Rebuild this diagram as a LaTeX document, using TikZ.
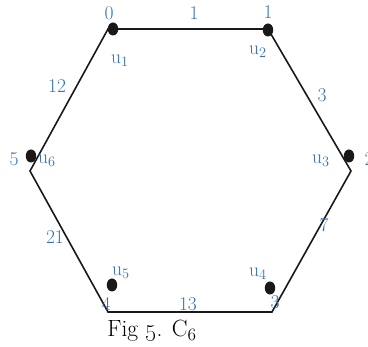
\documentclass[tikz,border=0pt]{standalone}
\usetikzlibrary{shapes.geometric}
\definecolor{lblue}{RGB}{52,113,190}
\definecolor{edgeblack}{RGB}{25,25,25}
\begin{document}
\begin{tikzpicture}[x=1pt,y=-1pt,
  dot/.style={ellipse,fill=edgeblack,draw=none,minimum width=10.5pt,minimum height=13pt,inner sep=0pt},
  edge/.style={draw=edgeblack,line width=1.6pt,line join=miter},
  lbl/.style={text=lblue,inner sep=0pt,font=\fontsize{19.5}{22}\selectfont},
  captext/.style={text=black,inner sep=0pt,font=\fontsize{23.5}{27}\selectfont}]
\useasboundingbox (0,0) rectangle (368,347);
% corners
\coordinate (c1) at (108,29);
\coordinate (c2) at (268,29);
\coordinate (c3) at (351,171);
\coordinate (c4) at (272,312);
\coordinate (c5) at (108,312);
\coordinate (c6) at (30,171);
\draw[edge] (c1) -- (c2) -- (c3) -- (c4) -- (c5) -- (c6) -- cycle;
% dots
\node[dot] (u1) at (113,29) {};
\node[dot] (u2) at (268,30) {};
\node[dot] (u3) at (349,156) {};
\node[dot] (u4) at (270,288) {};
\node[dot] (u5) at (112,285) {};
\node[dot] (u6) at (31,156) {};
% vertex labels
\node[lbl] (l0) at (109,13) {0};
\node[lbl] (l1) at (268,12) {1};
\node[lbl,anchor=west] (l2) at (364.5,159) {2};
\node[lbl] (l3) at (275,302) {3};
\node[lbl] (l4) at (106,304) {4};
\node[lbl] (l5) at (14,159) {5};
% edge labels
\node[lbl] (e1) at (194,13) {1};
\node[lbl] (e3) at (322,95) {3};
\node[lbl] (e7) at (324,225) {7};
\node[lbl] (e13) at (188,304) {13};
\node[lbl] (e21) at (55,237) {21};
\node[lbl] (e12) at (57,86) {12};
% u labels
\node[lbl] (n1) at (120,61) {u$_1$};
\node[lbl] (n2) at (258,52) {u$_2$};
\node[lbl] (n3) at (321,161) {u$_3$};
\node[lbl] (n4) at (258,274) {u$_4$};
\node[lbl] (n5) at (121,273) {u$_5$};
\node[lbl] (n6) at (47,161) {u$_6$};
% caption
\node[captext,anchor=base] (capt) at (152,337) {Fig \oldstylenums{5}. C$_{\oldstylenums{6}}$};
\end{tikzpicture}
\end{document}
